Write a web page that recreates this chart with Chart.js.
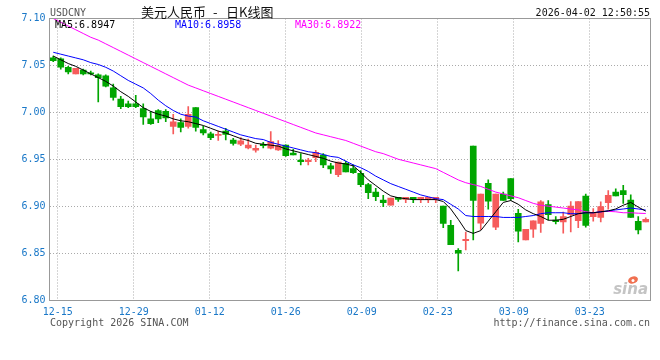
<!DOCTYPE html>
<html>
<head>
<meta charset="utf-8">
<script src="https://cdn.jsdelivr.net/npm/chart.js@4.4.1/dist/chart.umd.min.js"></script>
<style>
html,body{margin:0;padding:0;background:#fff;}
#wrap{width:660px;height:360px;position:relative;}
canvas{display:block;}
</style>
</head>
<body>
<div id="wrap"><canvas id="c" width="660" height="360"></canvas></div>
<script>
// ---------- data ----------
const dates = ['12-12','12-15','12-16','12-17','12-18','12-19','12-22','12-23','12-24','12-25','12-26','12-29','12-30','12-31','01-01','01-02','01-05','01-06','01-07','01-08','01-09','01-12','01-13','01-14','01-15','01-16','01-19','01-20','01-21','01-22','01-23','01-26','01-27','01-28','01-29','01-30','02-02','02-03','02-04','02-05','02-06','02-09','02-10','02-11','02-12','02-13','02-16','02-17','02-18','02-19','02-20','02-23','02-24','02-25','02-26','02-27','03-02','03-03','03-04','03-05','03-06','03-09','03-10','03-11','03-12','03-13','03-16','03-17','03-18','03-19','03-20','03-23','03-24','03-25','03-26','03-27','03-30','03-31','04-01','04-02'];

const openP  = [7.058,7.057,7.048,7.041,7.045,7.042,7.040,7.039,7.026,7.014,7.009,7.009,7.004,6.993,7.002,7.001,6.985,6.989,6.985,7.005,6.9815,6.977,6.9755,6.980,6.9705,6.966,6.962,6.9596,6.966,6.9617,6.960,6.965,6.9567,6.949,6.9474,6.9517,6.9545,6.9431,6.9335,6.9457,6.940,6.935,6.9229,6.915,6.9066,6.901,6.9095,6.9073,6.9095,6.9073,6.9073,6.9073,6.9002,6.8796,6.853,6.8632,6.964,6.882,6.9244,6.8775,6.913,6.9293,6.8924,6.864,6.8754,6.8817,6.9016,6.8853,6.8832,6.891,6.8845,6.9108,6.8888,6.8881,6.9037,6.915,6.9165,6.9066,6.8839,6.8832];
const highP  = [7.060,7.058,7.049,7.047,7.046,7.044,7.041,7.040,7.030,7.017,7.012,7.018,7.009,7.001,7.003,7.003,6.998,6.993,7.006,7.005,6.985,6.979,6.980,6.983,6.9723,6.973,6.9716,6.965,6.968,6.9794,6.970,6.9655,6.9606,6.956,6.951,6.9595,6.956,6.9457,6.947,6.948,6.944,6.9378,6.9244,6.919,6.9116,6.9087,6.9095,6.9095,6.9095,6.9095,6.9095,6.9095,6.9002,6.885,6.8547,6.8725,6.964,6.913,6.928,6.913,6.915,6.9293,6.8967,6.8754,6.8845,6.906,6.906,6.8888,6.8938,6.905,6.905,6.913,6.8973,6.9045,6.9165,6.9186,6.9222,6.912,6.8888,6.8875];
const lowP   = [7.054,7.046,7.041,7.041,7.040,7.040,7.011,7.027,7.013,7.004,7.005,7.005,6.987,6.987,6.989,6.990,6.977,6.979,6.983,6.980,6.976,6.971,6.970,6.9705,6.965,6.9644,6.961,6.9575,6.962,6.961,6.9595,6.953,6.9545,6.944,6.944,6.9474,6.941,6.935,6.9314,6.9364,6.935,6.9207,6.908,6.9058,6.8994,6.901,6.905,6.9037,6.9037,6.9037,6.9037,6.9037,6.877,6.859,6.831,6.8533,6.864,6.875,6.8967,6.875,6.906,6.906,6.862,6.864,6.8666,6.872,6.8853,6.881,6.8711,6.8725,6.877,6.8775,6.8839,6.8832,6.8967,6.9108,6.903,6.8881,6.8703,6.8832];
const closeP = [7.055,7.048,7.043,7.047,7.041,7.041,7.037,7.028,7.016,7.006,7.006,7.006,6.995,6.988,6.993,6.994,6.990,6.984,6.998,6.984,6.978,6.973,6.9765,6.9765,6.967,6.9695,6.965,6.9617,6.9645,6.9687,6.9645,6.9538,6.9545,6.9474,6.949,6.9575,6.944,6.9396,6.947,6.9364,6.9357,6.9229,6.9144,6.910,6.9037,6.9087,6.9073,6.9095,6.9073,6.9095,6.9095,6.9095,6.8817,6.859,6.8498,6.8647,6.906,6.913,6.9052,6.913,6.906,6.908,6.8733,6.8754,6.8845,6.9045,6.891,6.8835,6.8888,6.9002,6.905,6.8796,6.8924,6.8995,6.9116,6.9108,6.9122,6.8881,6.8746,6.886];

const ma5  = [7.060,7.056,7.052,7.049,7.045,7.041,7.037,7.033,7.028,7.022,7.017,7.011,7.005,7.001,6.998,6.996,6.993,6.991,6.990,6.988,6.986,6.983,6.980,6.978,6.975,6.972,6.970,6.967,6.966,6.965,6.964,6.961,6.959,6.957,6.955,6.953,6.951,6.948,6.946,6.945,6.943,6.936,6.928,6.922,6.916,6.911,6.909,6.908,6.907,6.907,6.907,6.907,6.905,6.897,6.886,6.874,6.871,6.874,6.884,6.894,6.904,6.906,6.902,6.896,6.892,6.889,6.885,6.885,6.886,6.889,6.892,6.893,6.893,6.894,6.895,6.897,6.901,6.904,6.899,6.8947];
const ma10 = [7.064,7.062,7.060,7.058,7.056,7.053,7.051,7.048,7.044,7.039,7.034,7.030,7.026,7.020,7.013,7.007,7.002,6.998,6.996,6.995,6.991,6.988,6.985,6.982,6.979,6.976,6.974,6.972,6.971,6.968,6.966,6.964,6.962,6.960,6.958,6.957,6.955,6.953,6.952,6.948,6.944,6.941,6.937,6.932,6.928,6.924,6.921,6.918,6.915,6.912,6.910,6.908,6.907,6.902,6.897,6.890,6.889,6.889,6.889,6.889,6.888,6.888,6.888,6.889,6.890,6.892,6.893,6.893,6.893,6.892,6.892,6.893,6.893,6.894,6.895,6.896,6.897,6.898,6.897,6.8958];
const ma30 = [7.100,7.096,7.092,7.088,7.084,7.080,7.077,7.073,7.069,7.065,7.061,7.057,7.053,7.049,7.045,7.041,7.037,7.033,7.029,7.026,7.023,7.020,7.017,7.014,7.011,7.008,7.005,7.002,6.999,6.996,6.993,6.990,6.987,6.984,6.981,6.978,6.976,6.974,6.972,6.970,6.967,6.964,6.961,6.958,6.956,6.953,6.950,6.948,6.946,6.944,6.942,6.940,6.936,6.932,6.928,6.925,6.923,6.921,6.918,6.915,6.913,6.911,6.909,6.906,6.903,6.901,6.900,6.899,6.898,6.897,6.896,6.894,6.893,6.894,6.8945,6.894,6.893,6.893,6.8925,6.8922];

const tickLabels = ['12-15','12-29','01-12','01-26','02-09','02-23','03-09','03-23'];
const yTicks = [6.80,6.85,6.90,6.95,7.00,7.05,7.10];

// ---------- styles ----------
const UP = '#f65b5b', DOWN = '#00a600';
const MONO = '"DejaVu Sans Mono", "Liberation Mono", monospace';
const idx = dates.map((d,i)=>i);
const col = idx.map(i => closeP[i] >= openP[i] ? UP : DOWN);

const framePlugin = {
  id: 'frame',
  afterDraw(chart) {
    const {ctx, chartArea: a} = chart;
    ctx.save();
    ctx.strokeStyle = '#999';
    ctx.lineWidth = 1;
    ctx.strokeRect(Math.round(a.left)-0.5, Math.round(a.top)-0.5, Math.round(a.right-a.left)+1, Math.round(a.bottom-a.top));
    // header
    ctx.textBaseline = 'middle';
    ctx.font = '10px ' + MONO;
    ctx.fillStyle = '#555';
    ctx.textAlign = 'left';
    ctx.fillText('USDCNY', 50, 13);
    ctx.fillStyle = '#111';
    ctx.font = '13px "Noto Sans CJK SC", sans-serif';
    ctx.fillText('美元人民币', 141, 12);
    ctx.fillText('-', 213, 12);
    ctx.fillText('日K线图', 226, 12);
    ctx.font = '10px ' + MONO;
    ctx.textAlign = 'right';
    ctx.fillText('2026-04-02 12:50:55', 650, 13);
    // MA legend
    ctx.textAlign = 'left';
    ctx.fillStyle = '#000';
    ctx.fillText('MA5:' + ma5[ma5.length-1].toFixed(4), 55, 25);
    ctx.fillStyle = '#0000ff';
    ctx.fillText('MA10:' + ma10[ma10.length-1].toFixed(4), 175, 25);
    ctx.fillStyle = '#ff00ff';
    ctx.fillText('MA30:' + ma30[ma30.length-1].toFixed(4), 295, 25);
    // footer
    ctx.fillStyle = '#555';
    ctx.fillText('Copyright 2026 SINA.COM', 50, 323);
    ctx.textAlign = 'right';
    ctx.fillText('http://finance.sina.com.cn', 650, 323);
    // logo
    ctx.fillStyle = '#c4c4c4';
    ctx.font = 'italic bold 15px "DejaVu Sans", sans-serif';
    ctx.textBaseline = 'alphabetic';
    ctx.fillText('sina', 648, 294);
    ctx.fillStyle = '#f07050';
    ctx.beginPath();
    ctx.ellipse(633, 280, 5, 3.5, -0.3, 0, Math.PI*2);
    ctx.fill();
    ctx.fillStyle = '#fff';
    ctx.beginPath();
    ctx.arc(633, 280.5, 1.5, 0, Math.PI*2);
    ctx.fill();
    ctx.restore();
  }
};

new Chart(document.getElementById('c'), {
  type: 'bar',
  data: {
    datasets: [
      { type:'line', label:'MA5', data: idx.map(i=>({x:i,y:ma5[i]})), borderColor:'#000', borderWidth:1, pointRadius:0, tension:0, order:0 },
      { type:'line', label:'MA10', data: idx.map(i=>({x:i,y:ma10[i]})), borderColor:'#0000ff', borderWidth:1, pointRadius:0, tension:0, order:0 },
      { type:'line', label:'MA30', data: idx.map(i=>({x:i,y:ma30[i]})), borderColor:'#ff00ff', borderWidth:1, pointRadius:0, tension:0, order:0 },
      { label:'body', data: idx.map(i=>({x:i,y:[openP[i],closeP[i]]})), backgroundColor: col, borderWidth:0, barThickness:6, minBarLength:1, grouped:false, order:1 },
      { label:'wick', data: idx.map(i=>({x:i,y:[lowP[i],highP[i]]})), backgroundColor: col, borderWidth:0, barThickness:1, minBarLength:1, grouped:false, order:2 }
    ]
  },
  options: {
    responsive: false,
    animation: false,
    devicePixelRatio: 1,
    layout: { padding: { top: 18.5, right: 10.5, bottom: 0, left: 0 } },
    plugins: { legend: { display: false }, tooltip: { enabled: false } },
    scales: {
      x: {
        type: 'linear',
        min: -0.5, max: dates.length - 0.5,
        offset: false,
        grid: { offset: false, color: '#aaa', drawTicks: false, lineWidth: 1 },
        border: { display: false, dash: [1,2] },
        afterBuildTicks(s) {
          // Sina's date grid runs at a slightly wider pitch than the candles
          s.ticks = tickLabels.map((l,k) => ({ value: dates.indexOf(l) - 0.4 + k * 0.1333 }));
        },
        ticks: {
          autoSkip: false, maxRotation: 0, padding: 6,
          color: '#1a78c8', font: { family: MONO, size: 10 },
          callback: (v, i) => tickLabels[i]
        },
        afterFit(s) { s.height = 60; }
      },
      y: {
        type: 'linear',
        min: 6.80, max: 7.10,
        afterBuildTicks(s) { s.ticks = yTicks.map(v => ({ value: v })); },
        grid: {
          drawTicks: false,
          color: c => (c.tick && (Math.abs(c.tick.value - 6.80) < 1e-6 || Math.abs(c.tick.value - 7.10) < 1e-6)) ? 'rgba(0,0,0,0)' : '#aaa'
        },
        border: { display: false, dash: [1,2] },
        ticks: {
          padding: 4, color: '#1a78c8', font: { family: MONO, size: 10 },
          callback: v => Number(v).toFixed(2)
        },
        afterFit(s) { s.width = 49.5; }
      }
    }
  },
  plugins: [framePlugin]
});
</script>
</body>
</html>
